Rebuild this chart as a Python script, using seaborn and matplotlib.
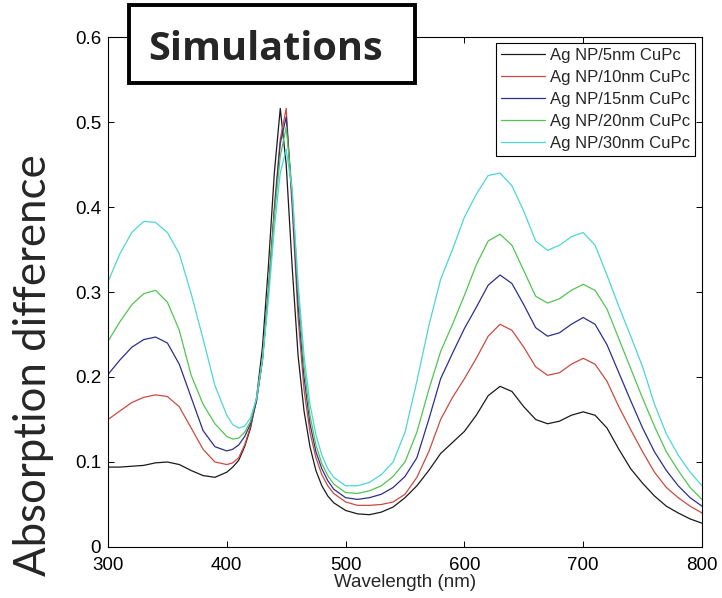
import numpy as np
import pandas as pd
import matplotlib
matplotlib.use("Agg")
import matplotlib.pyplot as plt
import seaborn as sns
from matplotlib.patches import Rectangle

# wavelength grid (nm), denser around the sharp 445-450 nm peak
wavelength = [300, 310, 320, 330, 340, 350, 360, 370, 380, 390,
              400, 405, 410, 415, 420, 425, 430, 435, 440, 445,
              450, 455, 460, 465, 470, 475, 480, 485, 490,
              500, 510, 520, 530, 540, 550, 560, 570, 580, 590,
              600, 610, 620, 630, 640, 650, 660, 670, 680, 690,
              700, 710, 720, 730, 740, 750, 760, 770, 780, 790, 800]

cupc_5nm = [0.094, 0.094, 0.095, 0.096, 0.099, 0.100, 0.097, 0.090, 0.084, 0.082,
            0.088, 0.094, 0.102, 0.118, 0.140, 0.175, 0.235, 0.330, 0.440, 0.516,
            0.450, 0.330, 0.225, 0.160, 0.118, 0.090, 0.072, 0.060, 0.052,
            0.043, 0.039, 0.038, 0.041, 0.047, 0.058, 0.072, 0.090, 0.110, 0.123,
            0.136, 0.155, 0.178, 0.189, 0.183, 0.165, 0.150, 0.145, 0.148, 0.155,
            0.159, 0.155, 0.140, 0.115, 0.092, 0.075, 0.060, 0.048, 0.040, 0.033, 0.028]

cupc_10nm = [0.150, 0.160, 0.170, 0.176, 0.179, 0.177, 0.165, 0.140, 0.115, 0.100,
             0.097, 0.099, 0.105, 0.120, 0.142, 0.172, 0.220, 0.300, 0.400, 0.480,
             0.516, 0.400, 0.270, 0.185, 0.135, 0.105, 0.085, 0.072, 0.063,
             0.053, 0.049, 0.049, 0.050, 0.053, 0.062, 0.082, 0.112, 0.150, 0.176,
             0.198, 0.222, 0.248, 0.262, 0.255, 0.235, 0.212, 0.202, 0.205, 0.215,
             0.222, 0.215, 0.195, 0.165, 0.138, 0.112, 0.088, 0.070, 0.058, 0.048, 0.040]

cupc_15nm = [0.203, 0.220, 0.235, 0.244, 0.247, 0.240, 0.215, 0.176, 0.137, 0.118,
             0.113, 0.115, 0.120, 0.130, 0.145, 0.172, 0.220, 0.300, 0.395, 0.475,
             0.506, 0.410, 0.285, 0.200, 0.145, 0.112, 0.092, 0.078, 0.068,
             0.058, 0.056, 0.058, 0.062, 0.070, 0.083, 0.105, 0.150, 0.198, 0.228,
             0.257, 0.282, 0.308, 0.320, 0.310, 0.285, 0.258, 0.248, 0.252, 0.262,
             0.270, 0.262, 0.238, 0.205, 0.172, 0.140, 0.112, 0.090, 0.072, 0.058, 0.048]

cupc_20nm = [0.242, 0.265, 0.285, 0.298, 0.302, 0.288, 0.255, 0.202, 0.168, 0.145,
             0.130, 0.127, 0.128, 0.135, 0.148, 0.175, 0.222, 0.300, 0.390, 0.460,
             0.494, 0.420, 0.300, 0.212, 0.155, 0.120, 0.098, 0.084, 0.074,
             0.064, 0.063, 0.066, 0.072, 0.083, 0.100, 0.135, 0.185, 0.230, 0.262,
             0.296, 0.332, 0.360, 0.368, 0.355, 0.325, 0.295, 0.287, 0.292, 0.302,
             0.309, 0.302, 0.280, 0.245, 0.210, 0.175, 0.142, 0.112, 0.090, 0.070, 0.056]

cupc_30nm = [0.312, 0.345, 0.370, 0.383, 0.382, 0.370, 0.345, 0.298, 0.245, 0.190,
             0.155, 0.144, 0.140, 0.142, 0.152, 0.175, 0.220, 0.290, 0.375, 0.440,
             0.468, 0.420, 0.310, 0.225, 0.168, 0.132, 0.108, 0.092, 0.082,
             0.072, 0.072, 0.076, 0.085, 0.100, 0.135, 0.195, 0.260, 0.315, 0.350,
             0.388, 0.415, 0.437, 0.440, 0.425, 0.395, 0.360, 0.349, 0.355, 0.365,
             0.370, 0.355, 0.320, 0.283, 0.248, 0.212, 0.168, 0.133, 0.108, 0.088, 0.072]

labels = ["Ag NP/5nm CuPc", "Ag NP/10nm CuPc", "Ag NP/15nm CuPc",
          "Ag NP/20nm CuPc", "Ag NP/30nm CuPc"]
series = [cupc_5nm, cupc_10nm, cupc_15nm, cupc_20nm, cupc_30nm]
colors = ["#1a1a1a", "#cc4a40", "#2e2e8c", "#52c452", "#4cd6d6"]

x_ticks = [300, 400, 500, 600, 700, 800]
y_ticks = [0, 0.1, 0.2, 0.3, 0.4, 0.5, 0.6]
y_tick_labels = ["0", "0.1", "0.2", "0.3", "0.4", "0.5", "0.6"]

# long table for seaborn
df = pd.concat(
    [pd.DataFrame({"Wavelength": wavelength, "Absorption": vals, "Sample": lab})
     for lab, vals in zip(labels, series)],
    ignore_index=True,
)

sns.set_style("ticks")
plt.rcParams["font.family"] = ["Liberation Sans", "DejaVu Sans"]

fig = plt.figure(figsize=(7.22, 5.98), dpi=100)
ax = fig.add_axes([0.1496, 0.0853, 0.8227, 0.8528])

sns.lineplot(data=df, x="Wavelength", y="Absorption", hue="Sample",
             hue_order=labels, palette=colors, estimator=None, sort=False,
             linewidth=0.9, ax=ax)

ax.set_xlim(300, 800)
ax.set_ylim(0, 0.6)
ax.set_xticks(x_ticks)
ax.set_yticks(y_ticks)
ax.set_yticklabels(y_tick_labels)
ax.tick_params(direction="in", length=4, width=0.7, top=True, right=True,
               labelsize=13.5, colors="black")
ax.tick_params(axis="y", pad=5)
ax.tick_params(axis="x", pad=7)
for sp in ax.spines.values():
    sp.set_visible(True)
    sp.set_linewidth(0.8)
    sp.set_color("black")

ax.set_xlabel("Wavelength (nm)", fontsize=13.5, labelpad=0)
ax.set_ylabel("")
fig.text(0.046, 0.39, "Absorption difference", rotation=90, ha="center",
         va="center", fontsize=31.5, family=["Lato", "DejaVu Sans"])

handles, _ = ax.get_legend_handles_labels()
leg = ax.legend(handles, labels, loc="upper right", bbox_to_anchor=(0.988, 0.988),
                borderaxespad=0, fancybox=False, framealpha=1, edgecolor="black",
                fontsize=12, handlelength=2.6, handletextpad=0.3,
                labelspacing=0.42, borderpad=0.3)
leg.get_frame().set_linewidth(0.8)

# "Simulations" label box on top of the axes
box = Rectangle((0.1787, 0.8612), 0.396, 0.1304, transform=fig.transFigure,
                facecolor="white", edgecolor="black", linewidth=2.8, zorder=5)
fig.patches.append(box)
fig.text(0.3684, 0.8997, "Simulations", ha="center", va="baseline",
         fontsize=28.5, fontweight="bold", family=["Open Sans", "DejaVu Sans"],
         zorder=6)

fig.savefig("out.png", dpi=100)
